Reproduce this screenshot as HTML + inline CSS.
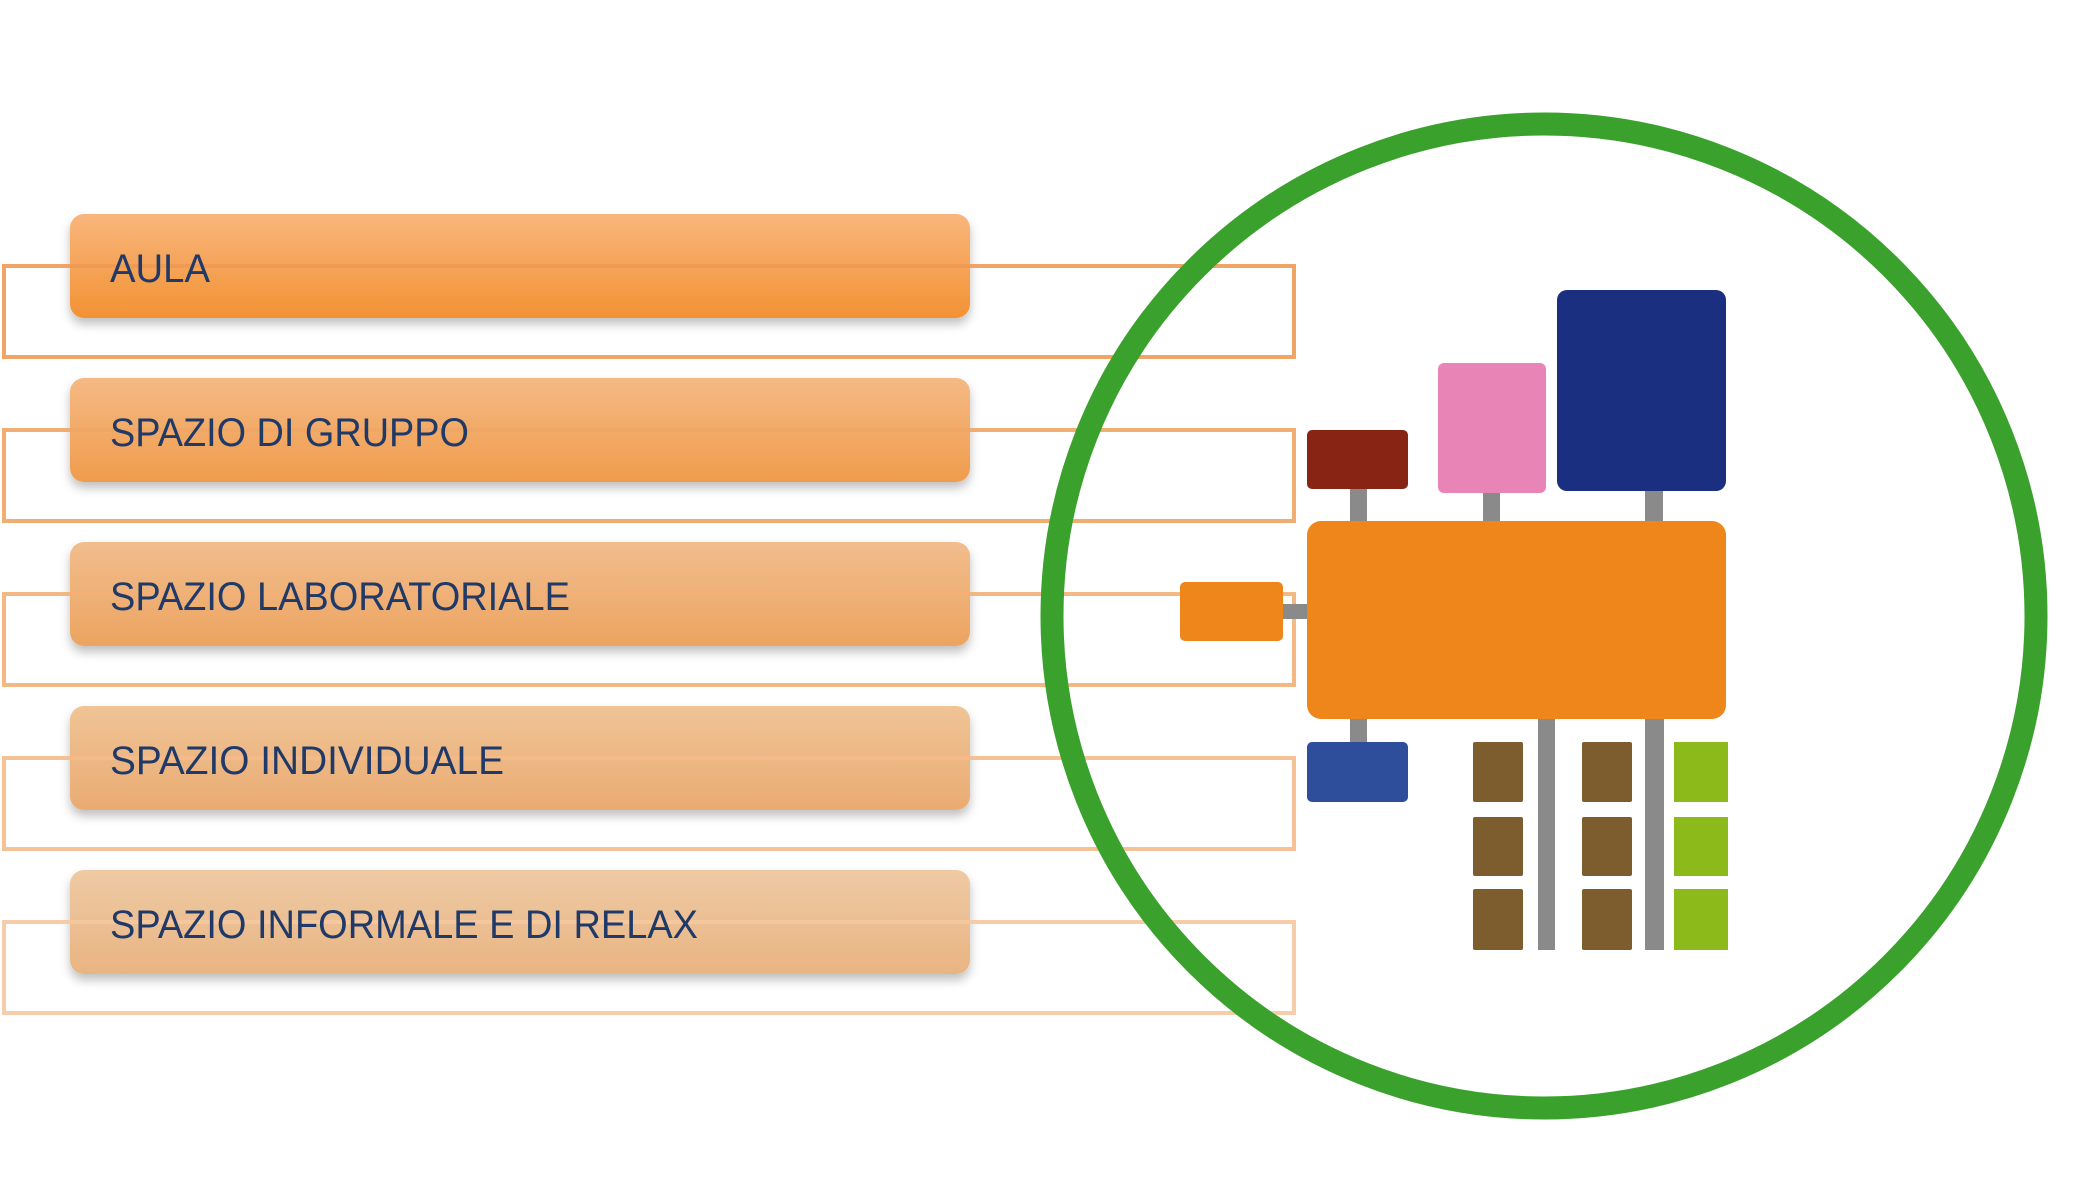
<!DOCTYPE html>
<html><head><meta charset="utf-8"><style>
html,body{margin:0;padding:0;background:#fff;}
svg{display:block;}
text{font-family:"Liberation Sans",sans-serif;font-size:40px;fill:#1f3a68;}
</style></head><body>
<svg width="2079" height="1204" viewBox="0 0 2079 1204" xmlns="http://www.w3.org/2000/svg">
<defs>
<linearGradient id="g1" x1="0" y1="0" x2="0" y2="1"><stop offset="0" stop-color="#f8b67c"/><stop offset="1" stop-color="#f39234"/></linearGradient>
<linearGradient id="g2" x1="0" y1="0" x2="0" y2="1"><stop offset="0" stop-color="#f4b984"/><stop offset="1" stop-color="#f09c4c"/></linearGradient>
<linearGradient id="g3" x1="0" y1="0" x2="0" y2="1"><stop offset="0" stop-color="#f1bd8d"/><stop offset="1" stop-color="#eca460"/></linearGradient>
<linearGradient id="g4" x1="0" y1="0" x2="0" y2="1"><stop offset="0" stop-color="#efc496"/><stop offset="1" stop-color="#eaab72"/></linearGradient>
<linearGradient id="g5" x1="0" y1="0" x2="0" y2="1"><stop offset="0" stop-color="#eecaa4"/><stop offset="1" stop-color="#e9b482"/></linearGradient>
<filter id="sh" x="-5%" y="-20%" width="110%" height="150%"><feDropShadow dx="0" dy="6" stdDeviation="5" flood-color="#000" flood-opacity="0.25"/></filter>
</defs>

<rect x="70" y="214" width="900" height="104" rx="14" fill="url(#g1)" filter="url(#sh)"/>
<rect x="70" y="378" width="900" height="104" rx="14" fill="url(#g2)" filter="url(#sh)"/>
<rect x="70" y="542" width="900" height="104" rx="14" fill="url(#g3)" filter="url(#sh)"/>
<rect x="70" y="706" width="900" height="104" rx="14" fill="url(#g4)" filter="url(#sh)"/>
<rect x="70" y="870" width="900" height="104" rx="14" fill="url(#g5)" filter="url(#sh)"/>

<g fill="none" stroke-width="4">
<rect x="4" y="266" width="1290" height="91" stroke="#ee9a55" stroke-opacity="0.9"/>
<rect x="4" y="430" width="1290" height="91" stroke="#f0a564" stroke-opacity="0.9"/>
<rect x="4" y="594" width="1290" height="91" stroke="#f2b077" stroke-opacity="0.9"/>
<rect x="4" y="758" width="1290" height="91" stroke="#f4bb8a" stroke-opacity="0.9"/>
<rect x="4" y="922" width="1290" height="91" stroke="#f6c8a0" stroke-opacity="0.9"/>
</g>

<text x="110" y="282" textLength="100" lengthAdjust="spacingAndGlyphs">AULA</text>
<text x="110" y="446" textLength="359" lengthAdjust="spacingAndGlyphs">SPAZIO DI GRUPPO</text>
<text x="110" y="610" textLength="460" lengthAdjust="spacingAndGlyphs">SPAZIO LABORATORIALE</text>
<text x="110" y="774" textLength="394" lengthAdjust="spacingAndGlyphs">SPAZIO INDIVIDUALE</text>
<text x="110" y="938" textLength="588" lengthAdjust="spacingAndGlyphs">SPAZIO INFORMALE E DI RELAX</text>

<circle cx="1544" cy="616" r="492" fill="none" stroke="#3aa12d" stroke-width="23"/>

<g fill="#8a8a8a">
<rect x="1350" y="489" width="17" height="34"/>
<rect x="1483" y="492" width="17" height="31"/>
<rect x="1645" y="490" width="18" height="33"/>
<rect x="1283" y="604" width="26" height="15"/>
<rect x="1350" y="717" width="17" height="27"/>
<rect x="1538" y="717" width="17" height="233"/>
<rect x="1645" y="717" width="19" height="233"/>
</g>
<rect x="1307" y="521" width="419" height="198" rx="14" fill="#ee861b"/>
<rect x="1180" y="582" width="103" height="59" rx="5" fill="#ee861b"/>
<rect x="1307" y="430" width="101" height="59" rx="5" fill="#872414"/>
<rect x="1438" y="363" width="108" height="130" rx="6" fill="#e985b6"/>
<rect x="1557" y="290" width="169" height="201" rx="10" fill="#1b2f81"/>
<rect x="1307" y="742" width="101" height="60" rx="5" fill="#2e4e9c"/>
<g fill="#7d5c2d">
<rect x="1473" y="742" width="50" height="60" rx="2"/>
<rect x="1473" y="817" width="50" height="59" rx="2"/>
<rect x="1473" y="889" width="50" height="61" rx="2"/>
<rect x="1582" y="742" width="50" height="60" rx="2"/>
<rect x="1582" y="817" width="50" height="59" rx="2"/>
<rect x="1582" y="889" width="50" height="61" rx="2"/>
</g>
<g fill="#8bba1a">
<rect x="1674" y="742" width="54" height="60"/>
<rect x="1674" y="817" width="54" height="59"/>
<rect x="1674" y="889" width="54" height="61"/>
</g>
</svg>
</body></html>
